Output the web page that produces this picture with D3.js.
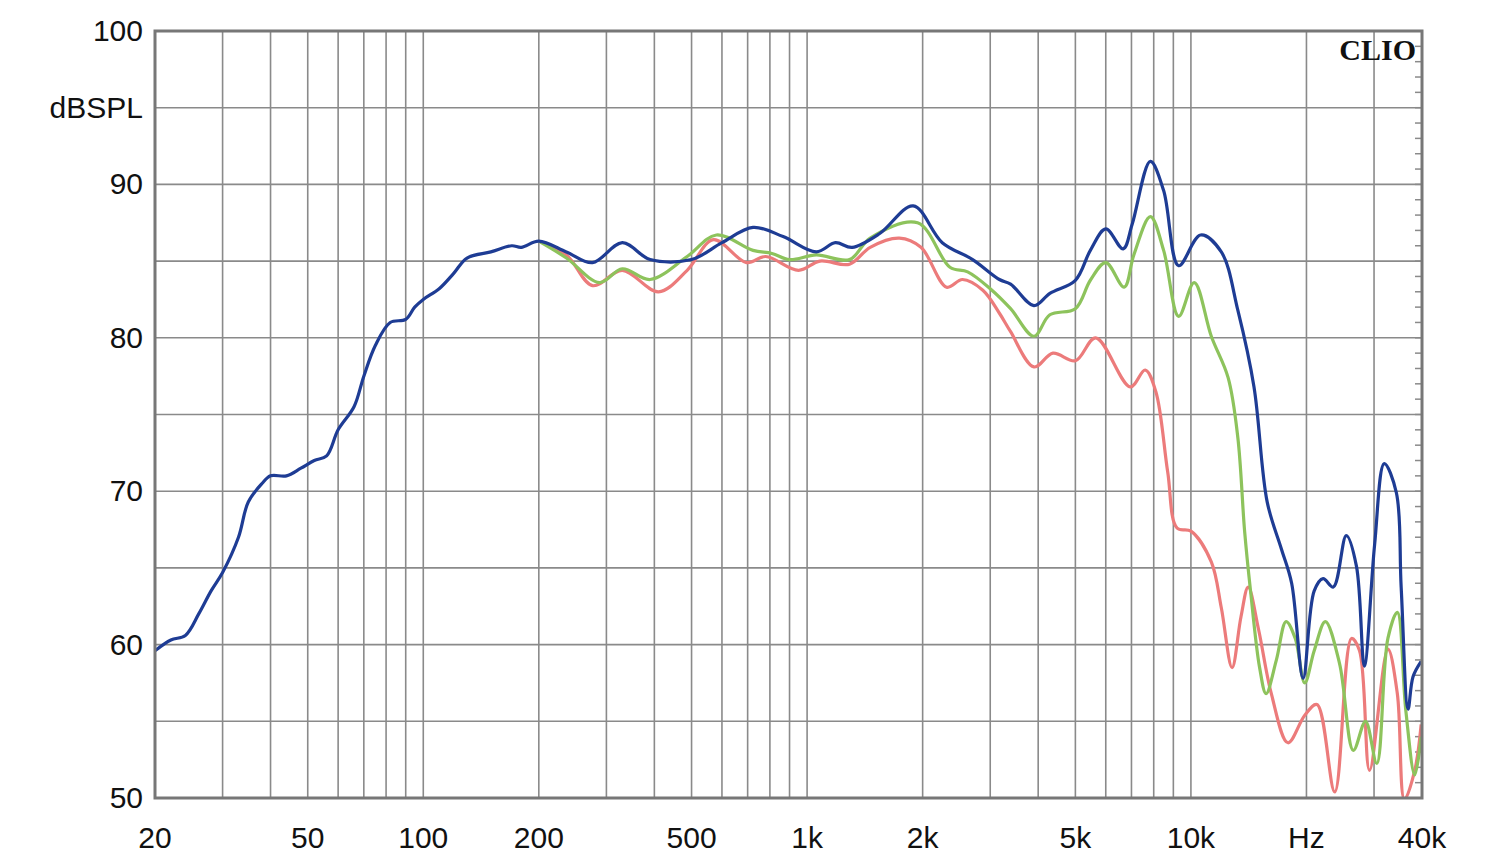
<!DOCTYPE html>
<html>
<head>
<meta charset="utf-8">
<script src="https://cdn.jsdelivr.net/npm/d3@7"></script>
<style>
  body { margin: 0; background: #fff; }
  text { font-family: "Liberation Sans", Arial, sans-serif; }
</style>
</head>
<body>
<svg width="1500" height="864"></svg>
<script>
// blue curve (freq Hz, dB)
const blueFreq = [20,22,24,26,28,30,33,35,38,40,44,48,52,56,60,66,70,75,82,90,95,100,110,120,130,150,170,180,200,
  236,276,330,390,500,600,723,866,1057,1185,1310,1546,1890,2250,2700,3170,3390,3900,4290,5000,5470,6000,6660,7030,7840,8490,9290,
  10600,12000,13250,14600,15800,17200,18300,19600,20950,22100,23500,25400,27000,28300,30100,31900,34300,35300,36800,37900,39800];
const blueDb = [59.6,60.3,60.6,62,63.5,64.7,67,69.3,70.5,71,71,71.5,72,72.3,74,75.5,77.5,79.5,81,81.2,82,82.5,83.2,84.2,85.2,85.6,86,85.9,86.3,
  85.6,84.9,86.2,85.1,85.1,86.2,87.2,86.6,85.6,86.2,85.9,86.8,88.6,86.2,85.1,83.8,83.5,82.1,82.9,83.75,85.7,87.1,85.8,87.4,91.5,89.6,84.7,
  86.7,85.6,81.8,76.8,69.3,66.25,64,57.8,63.5,64.3,63.75,67.1,65.1,58.6,66.5,71.8,69.9,63.75,55.8,57.9,58.9];

const greenFreq = [200,236,288,330,390,487,580,723,810,900,1057,1290,1460,1940,2356,2620,3000,3390,3900,4290,5000,5470,6000,6700,7100,7840,8490,9290,
  10200,11300,12500,13250,13800,14300,15100,15700,16700,17700,18700,19800,20950,22400,24400,26500,28500,30500,32600,34500,36300,38300,39800];
const greenDb = [86.3,85.2,83.6,84.5,83.8,85.3,86.7,85.7,85.5,85.1,85.4,85.1,86.5,87.5,84.6,84.3,83.2,81.9,80.1,81.5,81.9,83.75,84.9,83.3,85.4,87.9,85.7,81.4,
  83.6,80.1,77.4,73.5,67.4,63.5,58.5,56.8,59,61.5,60.4,57.5,59.6,61.5,58.75,53.1,55,52.25,60.4,62.1,55.7,51.5,54];

const redFreq = [200,236,276,330,410,487,570,695,780,950,1080,1290,1460,1740,1980,2310,2540,2870,3170,3390,3900,4370,5000,5650,6950,7600,8100,8700,9200,
  10000,11300,12000,12800,13500,14100,15000,16200,17900,19800,21300,23700,26200,27500,29200,32600,34500,36000,38300,39800];
const redDb = [86.3,85.4,83.4,84.4,83,84.4,86.4,84.9,85.3,84.4,85,84.8,85.9,86.5,85.9,83.3,83.8,83.1,81.6,80.4,78.1,79,78.5,80,76.8,77.9,76.5,71.25,67.6,
  67.4,65.4,62.4,58.5,61.8,63.75,61,56.8,53.6,55.4,56.1,50.4,60.4,59.6,51.8,59.7,56.8,49.9,51.8,54.8];

const yTicks = [50,60,70,80,90,100];
const xTickVals = [20,50,100,200,500,1000,2000,5000,10000,20000,40000];
const xTickLabels = ["20","50","100","200","500","1k","2k","5k","10k","Hz","40k"];
const xGrid = [20,30,40,50,60,70,80,90,100,200,300,400,500,600,700,800,900,1000,2000,3000,4000,5000,6000,7000,8000,9000,10000,20000,30000,40000];

const svg = d3.select('svg');
const L = 155, R = 1422, T = 31, B = 798;

const x = d3.scaleLog().domain([20,40000]).range([L,R]);
const y = d3.scaleLinear().domain([50,100]).range([B,T]);

const grid = svg.append('g').attr('stroke','#8a8a8a').attr('stroke-width',1.6);
grid.selectAll('.v').data(xGrid).enter().append('line')
  .attr('x1', d => x(d)).attr('x2', d => x(d)).attr('y1', T).attr('y2', B);
grid.selectAll('.h').data(d3.range(50,101,5)).enter().append('line')
  .attr('x1', L).attr('x2', R).attr('y1', d => y(d)).attr('y2', d => y(d));

// small ticks on the right edge
svg.append('g').attr('stroke','#8a8a8a').attr('stroke-width',1.5)
  .selectAll('line').data(d3.range(50,101,1)).enter().append('line')
  .attr('x1', R-7).attr('x2', R).attr('y1', d => y(d)).attr('y2', d => y(d));

const line = d3.line().x(d => x(d[0])).y(d => y(d[1])).curve(d3.curveCatmullRom.alpha(0.5));
svg.append('clipPath').attr('id','c').append('rect')
  .attr('x',L).attr('y',T).attr('width',R-L).attr('height',B-T);

const series = [
  [redFreq, redDb, '#ec7b7b'],
  [greenFreq, greenDb, '#8dc35c'],
  [blueFreq, blueDb, '#1e3c94']
];
series.forEach(s => {
  svg.append('path')
    .datum(d3.zip(s[0], s[1]))
    .attr('clip-path','url(#c)')
    .attr('fill','none').attr('stroke', s[2]).attr('stroke-width',3.2)
    .attr('d', line);
});

svg.append('rect').attr('x',L).attr('y',T).attr('width',R-L).attr('height',B-T)
  .attr('fill','none').attr('stroke','#777').attr('stroke-width',3);

svg.append('g').selectAll('text').data(yTicks).enter().append('text')
  .attr('x', 143).attr('y', d => y(d) + 10).attr('text-anchor','end')
  .attr('font-size', 30).attr('fill','#111').text(d => d);
svg.append('text').attr('x',143).attr('y', y(95) + 10).attr('text-anchor','end')
  .attr('font-size', 30).attr('fill','#111').text('dBSPL');

svg.append('g').selectAll('text').data(xTickVals).enter().append('text')
  .attr('x', d => x(d)).attr('y', 848).attr('text-anchor','middle')
  .attr('font-size', 30).attr('fill','#111').text((d,i) => xTickLabels[i]);

svg.append('text').attr('x', 1416).attr('y', 60).attr('text-anchor','end')
  .style('font-family','"Liberation Serif", "DejaVu Serif", serif')
  .attr('font-weight','bold').attr('font-size', 30).attr('fill','#111').text('CLIO');
</script>
</body>
</html>
